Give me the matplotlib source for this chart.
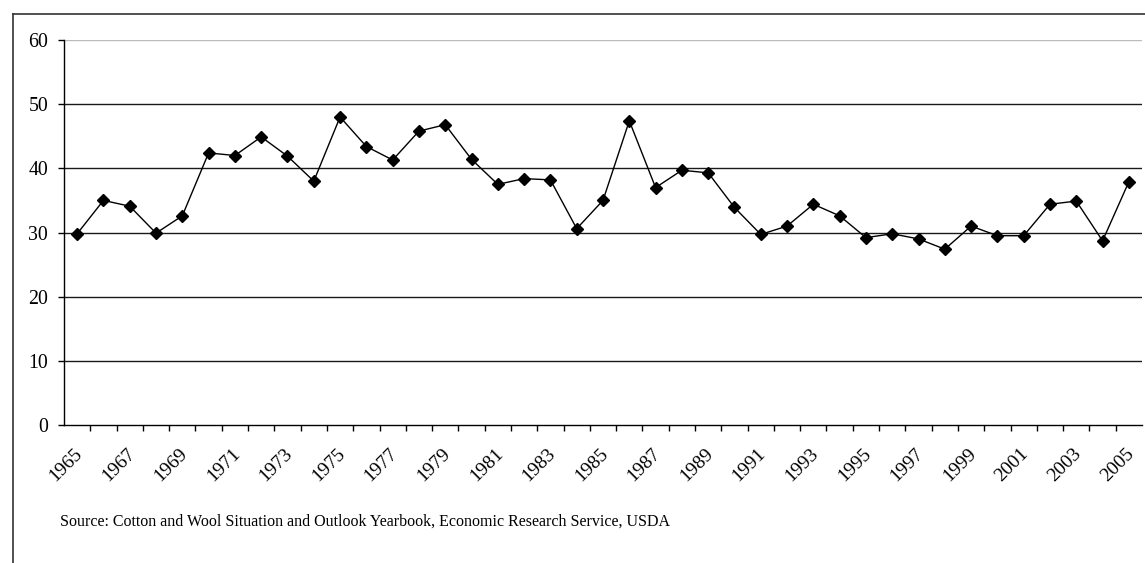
import matplotlib
matplotlib.use("Agg")
import matplotlib.pyplot as plt
from matplotlib.lines import Line2D
from matplotlib.transforms import ScaledTranslation

years = list(range(1965, 2006))
values = [29.8, 35.0, 34.1, 29.9, 32.6, 42.4, 42.0, 44.9, 41.9, 38.0,
          48.0, 43.4, 41.3, 45.8, 46.8, 41.4, 37.5, 38.4, 38.2, 30.6,
          35.0, 47.4, 37.0, 39.7, 39.3, 33.9, 29.7, 31.0, 34.4, 32.6,
          29.2, 29.8, 29.0, 27.4, 31.0, 29.5, 29.5, 34.4, 34.9, 28.7,
          37.9]
y_ticks = [0, 10, 20, 30, 40, 50, 60]
source_text = "Source: Cotton and Wool Situation and Outlook Yearbook, Economic Research Service, USDA"

plt.rcParams['font.family'] = ['Liberation Serif', 'DejaVu Serif']

W, H = 1145, 563
fig = plt.figure(figsize=(W / 100, H / 100), dpi=100)
ax = fig.add_axes([64 / W, 1 - 425 / H, (1142 - 64) / W, (425 - 40) / H])

x = list(range(len(years)))
ax.set_xlim(-0.5, len(years) - 0.5)
ax.set_ylim(0, 60)

# gridlines
for t in y_ticks[1:]:
    ax.axhline(t, color='#bbbbbb' if t == 60 else '#1a1a1a', lw=1.0, zorder=1)

ax.plot(x, values, color='black', lw=1.0, marker='D', ms=6.2,
        markerfacecolor='black', markeredgecolor='black', zorder=3)

for s in ['top', 'right']:
    ax.spines[s].set_visible(False)
for s in ['left', 'bottom']:
    ax.spines[s].set_color('black')
    ax.spines[s].set_linewidth(1.0)

ax.set_yticks(y_ticks)
ax.set_yticklabels([str(t) for t in y_ticks], fontsize=14.3)
ax.tick_params(axis='y', direction='out', length=4, width=1, pad=7.5, colors='black')

ax.set_xticks(x[::2])
ax.set_xticklabels([str(y) for y in years[::2]], fontsize=14)
ax.set_xticks([i + 0.5 for i in x[:-1]], minor=True)
ax.tick_params(axis='x', which='major', length=0, pad=19)
ax.tick_params(axis='x', which='minor', direction='out', length=4, width=1)
off = ScaledTranslation(2.5 / 100, 0, fig.dpi_scale_trans)
for lab in ax.get_xticklabels():
    lab.set_rotation(45)
    lab.set_ha('right')
    lab.set_va('center')
    lab.set_rotation_mode('anchor')
    lab.set_transform(lab.get_transform() + off)

# outer frame
fig.add_artist(Line2D([13 / W, 13 / W], [0, 1 - 14 / H], color='#333333', lw=1.2,
                      transform=fig.transFigure))
fig.add_artist(Line2D([13 / W, 1], [1 - 14 / H, 1 - 14 / H], color='#333333', lw=1.2,
                      transform=fig.transFigure))

fig.text(60 / W, 1 - 522 / H, source_text, fontsize=11.5, va='center', ha='left')

fig.savefig('out.png', dpi=100)
